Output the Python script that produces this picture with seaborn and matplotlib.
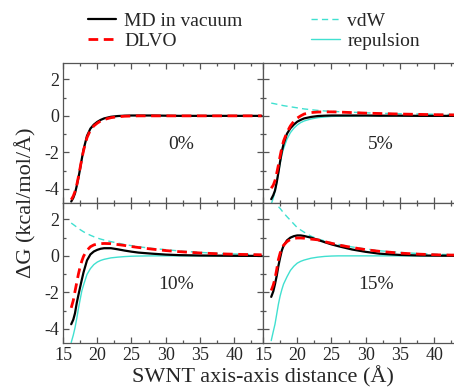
import matplotlib
matplotlib.use("Agg")
import matplotlib.pyplot as plt
from matplotlib.lines import Line2D
from matplotlib.ticker import MultipleLocator
import seaborn as sns

# distances (A) shared by every curve
dist = [16.2, 16.5, 16.75, 17, 17.25, 17.5, 17.75, 18, 18.5, 19, 19.5, 20, 20.5,
        21, 22, 23, 24, 25, 26, 28, 30, 32, 35, 38, 41, 44]

# 0 %
md_0 = [-4.70, -4.50, -4.25, -3.85, -3.40, -2.90, -2.35, -1.85, -1.10, -0.70, -0.48, -0.33, -0.22,
        -0.14, -0.05, -0.01, 0.01, 0.02, 0.02, 0.02, 0.01, 0.0, 0.0, 0.0, 0.0, 0.0]
dlvo_0 = [-4.60, -4.40, -4.15, -3.80, -3.35, -2.85, -2.35, -1.90, -1.20, -0.78, -0.55, -0.40, -0.28,
          -0.20, -0.10, -0.05, -0.02, -0.01, 0.0, 0.0, 0.0, 0.0, 0.0, 0.0, 0.0, 0.0]

# 5 %
md_5 = [-4.57, -4.35, -4.10, -3.65, -3.10, -2.50, -1.95, -1.55, -0.98, -0.68, -0.48, -0.32, -0.22,
        -0.14, -0.06, -0.01, 0.01, 0.02, 0.02, 0.02, 0.02, 0.01, 0.01, 0.0, 0.0, 0.0]
dlvo_5 = [-3.97, -3.80, -3.55, -3.15, -2.70, -2.20, -1.75, -1.38, -0.90, -0.55, -0.30, -0.12, 0.0,
          0.10, 0.18, 0.21, 0.22, 0.22, 0.21, 0.18, 0.15, 0.13, 0.10, 0.08, 0.06, 0.05]
vdw_5 = [0.70, 0.68, 0.66, 0.64, 0.62, 0.60, 0.58, 0.56, 0.53, 0.50, 0.47, 0.44, 0.41,
         0.38, 0.34, 0.30, 0.27, 0.25, 0.23, 0.20, 0.17, 0.14, 0.12, 0.10, 0.08, 0.07]
rep_5 = [-4.85, -4.50, -4.15, -3.70, -3.15, -2.60, -2.15, -1.80, -1.28, -0.92, -0.68, -0.50, -0.37,
         -0.28, -0.17, -0.10, -0.06, -0.03, -0.02, -0.01, 0.0, 0.0, 0.0, 0.0, 0.0, 0.0]

# 10 %
md_10 = [-3.75, -3.50, -3.15, -2.60, -2.15, -1.72, -1.30, -0.90, -0.25, 0.08, 0.24, 0.33, 0.39,
         0.42, 0.42, 0.36, 0.29, 0.23, 0.18, 0.12, 0.07, 0.04, 0.02, 0.01, 0.0, 0.0]
dlvo_10 = [-2.85, -2.45, -1.95, -1.48, -1.00, -0.60, -0.28, -0.02, 0.30, 0.50, 0.60, 0.65, 0.67,
           0.68, 0.67, 0.62, 0.57, 0.51, 0.46, 0.37, 0.29, 0.23, 0.16, 0.11, 0.08, 0.06]
vdw_10 = [1.80, 1.72, 1.65, 1.58, 1.51, 1.44, 1.38, 1.32, 1.22, 1.13, 1.05, 0.98, 0.92,
          0.87, 0.78, 0.70, 0.62, 0.56, 0.50, 0.41, 0.34, 0.27, 0.19, 0.13, 0.09, 0.07]
rep_10 = [-4.75, -4.35, -3.95, -3.45, -2.90, -2.40, -1.92, -1.60, -1.02, -0.70, -0.48, -0.34, -0.25,
          -0.19, -0.11, -0.07, -0.04, -0.02, -0.01, 0.0, 0.0, 0.0, 0.0, 0.0, 0.0, 0.0]

# 15 %
md_15 = [-2.25, -1.95, -1.55, -1.10, -0.55, -0.10, 0.30, 0.55, 0.85, 1.00, 1.08, 1.12, 1.12,
         1.09, 1.00, 0.88, 0.75, 0.63, 0.53, 0.35, 0.22, 0.12, 0.05, 0.02, 0.01, 0.0]
dlvo_15 = [-1.90, -1.60, -1.25, -0.75, -0.20, 0.15, 0.42, 0.58, 0.78, 0.90, 0.96, 0.98, 0.98,
           0.97, 0.92, 0.88, 0.78, 0.69, 0.60, 0.46, 0.34, 0.25, 0.15, 0.09, 0.05, 0.04]
vdw_15 = [3.10, 3.00, 2.90, 2.80, 2.70, 2.60, 2.48, 2.36, 2.15, 1.95, 1.75, 1.55, 1.42,
          1.30, 1.08, 0.93, 0.82, 0.72, 0.63, 0.49, 0.38, 0.28, 0.19, 0.12, 0.08, 0.06]
rep_15 = [-4.65, -4.15, -3.75, -3.20, -2.65, -2.20, -1.85, -1.55, -1.15, -0.80, -0.57, -0.40, -0.30,
          -0.23, -0.13, -0.07, -0.03, -0.01, 0.0, 0.0, 0.0, 0.0, 0.0, 0.0, 0.0, 0.0]

panels = [
    ("0%", md_0, dlvo_0, None, None),
    ("5%", md_5, dlvo_5, vdw_5, rep_5),
    ("10%", md_10, dlvo_10, vdw_10, rep_10),
    ("15%", md_15, dlvo_15, vdw_15, rep_15),
]

TURQ = "#40e0d0"
SPINE = "#555555"

sns.set_theme(style="ticks")
plt.rcParams["font.family"] = ["Liberation Serif", "DejaVu Serif"]
plt.rcParams["axes.unicode_minus"] = False

fig = plt.figure(figsize=(4.54, 3.92), dpi=100)
W, H = 454.0, 392.0
# axes boxes in pixels: left, top
boxes = [(63, 63), (263, 63), (63, 203), (263, 203)]

for i, (name, md, dlvo, vdw, rep) in enumerate(panels):
    left, top = boxes[i]
    ax = fig.add_axes([left / W, (H - top - 140) / H, 200 / W, 140 / H])
    if vdw is not None:
        sns.lineplot(x=dist, y=vdw, ax=ax, color=TURQ, linewidth=1.0,
                     linestyle=(0, (4.5, 3)))
        sns.lineplot(x=dist, y=rep, ax=ax, color=TURQ, linewidth=1.0)
    sns.lineplot(x=dist, y=md, ax=ax, color="black", linewidth=1.6)
    sns.lineplot(x=dist, y=dlvo, ax=ax, color="red", linewidth=2.0,
                 linestyle=(0, (3.5, 2)))
    ax.set_xlim(15, 44.2)
    ax.set_ylim(-4.78, 2.9)
    ax.xaxis.set_major_locator(MultipleLocator(5))
    ax.xaxis.set_minor_locator(MultipleLocator(2.5))
    ax.yaxis.set_major_locator(MultipleLocator(2))
    ax.yaxis.set_minor_locator(MultipleLocator(1))
    ax.tick_params(which="both", direction="in", top=True, right=True,
                   color=SPINE, width=0.9, labelsize=13, pad=3)
    ax.tick_params(which="major", length=4.3)
    ax.tick_params(which="minor", length=2.3)
    for s in ax.spines.values():
        s.set_color(SPINE)
        s.set_linewidth(0.9)
    ax.set_xlabel("")
    ax.set_ylabel("")
    if i < 2:
        ax.tick_params(labelbottom=False)
    if i % 2 == 1:
        ax.tick_params(labelleft=False)
    ax.text(32.2 if i < 2 else 31.5, -1.55, name, fontsize=14,
            ha="center", va="center")

fig.text(263 / W, 1 - 377 / H, "SWNT axis-axis distance (Å)", fontsize=16,
         ha="center", va="center")
fig.text(26 / W, 1 - 203 / H, "ΔG (kcal/mol/Å)", fontsize=16,
         ha="center", va="center", rotation=90)

handles = [
    Line2D([], [], color="black", linewidth=1.6),
    Line2D([], [], color="red", linewidth=2.0, linestyle=(0, (3.5, 2))),
    Line2D([], [], color=TURQ, linewidth=1.0, linestyle=(0, (4.5, 3))),
    Line2D([], [], color=TURQ, linewidth=1.0),
]
labels = ["MD in vacuum", "DLVO", "vdW", "repulsion"]
fig.legend(handles, labels, ncol=2, loc="upper left",
           bbox_to_anchor=(88 / W, 1 - 12 / H), frameon=False, fontsize=14,
           handlelength=1.45, handletextpad=0.4, columnspacing=3.55,
           labelspacing=0.12, borderpad=0, borderaxespad=0)

fig.savefig("out.png", dpi=100)
